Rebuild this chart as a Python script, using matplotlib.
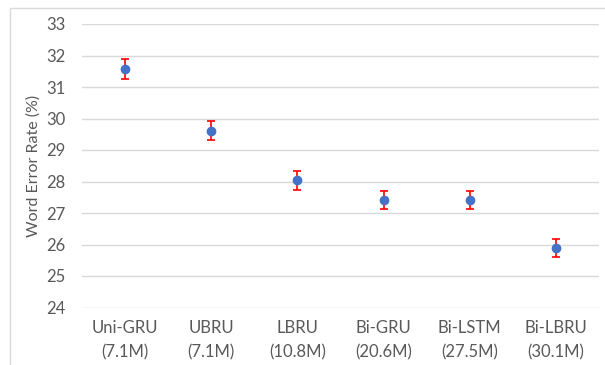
import matplotlib
matplotlib.use("Agg")
import matplotlib.pyplot as plt
from matplotlib.patches import Rectangle

# model names and parameter counts
models = ["Uni-GRU", "UBRU", "LBRU", "Bi-GRU", "Bi-LSTM", "Bi-LBRU"]
params = ["7.1M", "7.1M", "10.8M", "20.6M", "27.5M", "30.1M"]
wer = [31.57, 29.61, 28.04, 27.42, 27.42, 25.89]
wer_err = [0.31, 0.30, 0.30, 0.28, 0.28, 0.30]

plt.rcParams['font.family'] = ['Lato', 'DejaVu Sans']
text_color = '#595959'

fig = plt.figure(figsize=(6.05, 3.65), dpi=100)
# light outer chart frame
fig.patches.append(Rectangle((10 / 605, -0.1), 1.2, 1 - 8 / 365 + 0.1,
                             transform=fig.transFigure, fill=False,
                             edgecolor='#d9d9d9', linewidth=1.0))

ax = fig.add_axes([82 / 605, 1 - 307.5 / 365, 517 / 605, 283.5 / 365])
x = list(range(len(models)))
ax.errorbar(x, wer, yerr=wer_err, fmt='o', color='#4472C4', markersize=6,
            ecolor='#FF0000', elinewidth=1.2, capsize=3, capthick=1.2, zorder=3)

ax.set_xlim(-0.5, len(models) - 0.5)
ax.set_ylim(24, 33)
ax.set_yticks(range(24, 34))
ax.set_xticks(x)
ax.set_xticklabels([f"{m}\n({p})" for m, p in zip(models, params)],
                   linespacing=1.65)
ax.grid(axis='y', color='#d9d9d9', linewidth=1.0)
ax.set_axisbelow(True)
for s in ax.spines.values():
    s.set_visible(False)
ax.tick_params(axis='both', length=0, colors=text_color, labelsize=12)
ax.tick_params(axis='y', pad=12)
ax.tick_params(axis='x', pad=9)
ax.set_ylabel("Word Error Rate (%)", color=text_color, fontsize=11.5, labelpad=4)

fig.savefig("out.png", dpi=100)
